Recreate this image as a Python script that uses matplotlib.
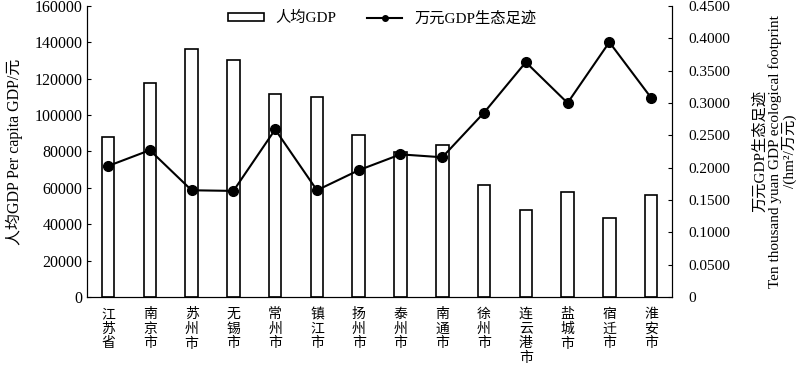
import matplotlib.pyplot as plt
import numpy as np

plt.rcParams['font.family'] = ['Liberation Serif', 'Noto Sans CJK SC']

# --- data ---
regions = ["江苏省", "南京市", "苏州市", "无锡市", "常州市", "镇江市", "扬州市",
           "泰州市", "南通市", "徐州市", "连云港市", "盐城市", "宿迁市", "淮安市"]
gdp_per_capita = [88000, 117500, 136300, 130400, 111700, 110000, 89300,
                  79500, 83800, 61300, 48000, 57900, 43400, 56300]
footprint = [0.2025, 0.227, 0.165, 0.164, 0.259, 0.165, 0.196,
             0.2205, 0.216, 0.285, 0.363, 0.300, 0.394, 0.308]

fig = plt.figure(figsize=(8, 3.71), dpi=100)
ax = fig.add_axes([0.109, 0.1995, 0.731, 0.7845])
x = np.arange(len(regions))

bars = ax.bar(x, gdp_per_capita, width=0.3, facecolor="white", edgecolor="black",
              linewidth=1.2, label="人均GDP")
ax.set_xlim(-0.5, len(regions) - 0.5)
ax.set_ylim(0, 160000)
ax.set_yticks(np.arange(0, 160001, 20000))
ax.set_ylabel("人均GDP Per capita GDP/元", fontsize=11.5)
ax.yaxis.set_label_coords(-0.11, 0.5)
ax.set_xticks(x)
ax.set_xticklabels(["\n".join(r) for r in regions], fontsize=10, va="top",
                   linespacing=1.15)
ax.tick_params(axis="x", length=0, pad=8)
ax.tick_params(axis="y", direction="in", length=3, labelsize=11.5)
ax.spines["top"].set_visible(False)

ax2 = ax.twinx()
ax2.plot(x, footprint, color="black", marker="o", markersize=7,
         linewidth=1.5, label="万元GDP生态足迹")
ax2.set_ylim(0, 0.45)
ticks2 = np.arange(0, 0.4501, 0.05)
ax2.set_yticks(ticks2)
ax2.set_yticklabels(["0"] + [f"{t:.4f}" for t in ticks2[1:]])
ax2.tick_params(axis="y", direction="in", length=3, labelsize=11, pad=12)
ax2.spines["top"].set_visible(False)
ax2.set_ylabel("万元GDP生态足迹\nTen thousand yuan GDP ecological footprint\n/(hm²/万元)",
               fontsize=11, linespacing=1.05, labelpad=16)

line_leg, = ax2.plot([], [], color="black", marker="o", markersize=4, linewidth=1.5)
ax2.legend([bars, line_leg], ["人均GDP", "万元GDP生态足迹"], loc="upper center",
           bbox_to_anchor=(0.505, 1.03), ncol=2, frameon=False, fontsize=11,
           handlelength=2.3, handleheight=0.35, columnspacing=2.0)

fig.savefig("out.png", dpi=100)
